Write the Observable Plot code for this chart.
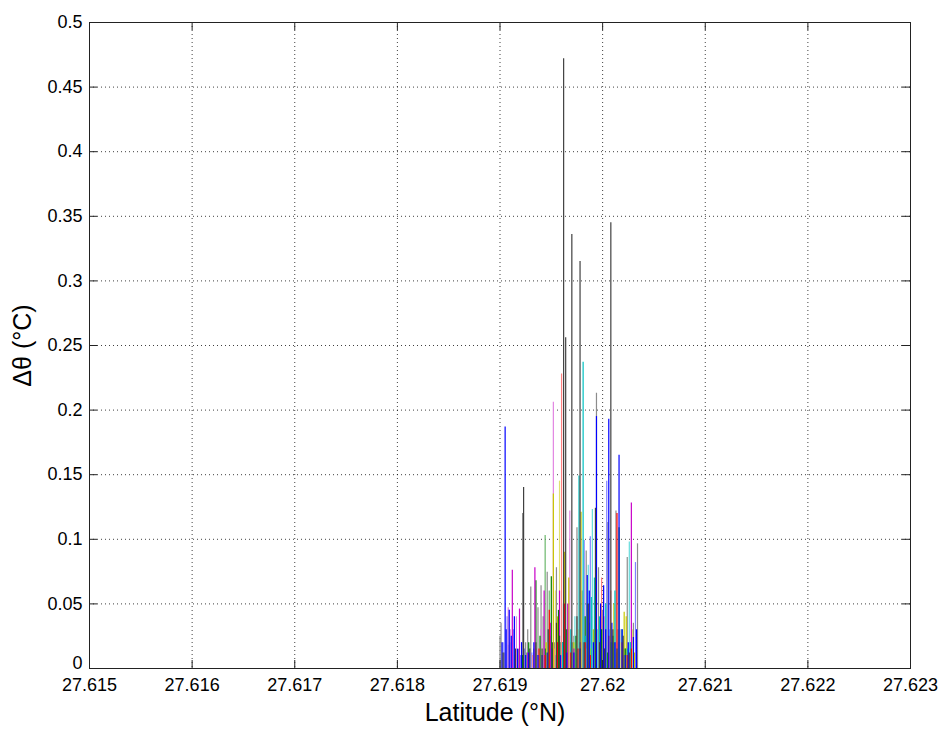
<!DOCTYPE html>
<html>
<head>
<meta charset="utf-8">
<script src="https://cdn.jsdelivr.net/npm/d3@7"></script>
<script src="https://cdn.jsdelivr.net/npm/@observablehq/plot@0.6"></script>
<style>
  html, body { margin: 0; padding: 0; background: #fff; }
</style>
</head>
<body>
<div id="chart"></div>
<script>
// ---- axis ticks ----
const xTicks = [27.615, 27.616, 27.617, 27.618, 27.619, 27.620, 27.621, 27.622, 27.623];
const xTickLabels = ["27.615", "27.616", "27.617", "27.618", "27.619", "27.62", "27.621", "27.622", "27.623"];
const yTicks = [0, 0.05, 0.1, 0.15, 0.2, 0.25, 0.3, 0.35, 0.4, 0.45, 0.5];
const yTickLabels = ["0", "0.05", "0.1", "0.15", "0.2", "0.25", "0.3", "0.35", "0.4", "0.45", "0.5"];
const xLabel = "Latitude (°N)";
const yLabel = "Δθ (°C)";

// ---- series (latitude of each spike, Δθ value) ----
const grayLat = [27.61900, 27.61901, 27.61904, 27.61908, 27.61910, 27.61914, 27.61918, 27.61922, 27.61925, 27.61927, 27.61930, 27.61933, 27.61937, 27.61940, 27.61942, 27.61946, 27.61949, 27.61953, 27.61955, 27.61960, 27.61963, 27.61966, 27.61969, 27.61972, 27.61975, 27.61980, 27.61984, 27.61987, 27.61990, 27.61994, 27.61996, 27.62000, 27.62003, 27.62005, 27.62009, 27.62013, 27.62015, 27.62018, 27.62022, 27.62024, 27.62027, 27.62030, 27.62034];
const grayVal = [0.025, 0.035, 0.012, 0.018, 0.02, 0.01, 0.015, 0.120, 0.02, 0.03, 0.063, 0.015, 0.047, 0.064, 0.04, 0.0745, 0.025, 0.02, 0.078, 0.05, 0.03, 0.03, 0.02, 0.025, 0.109, 0.06, 0.091, 0.035, 0.04, 0.213, 0.078, 0.045, 0.025, 0.113, 0.02, 0.122, 0.03, 0.03, 0.015, 0.086, 0.02, 0.035, 0.0965];

const lightBlueLat = [27.61903, 27.61907, 27.61913, 27.61920, 27.61924, 27.61931, 27.61944, 27.61961, 27.61970, 27.61982, 27.61988, 27.61997, 27.62004, 27.62011, 27.62015, 27.62023, 27.62032];
const lightBlueVal = [0.02, 0.04, 0.03, 0.01, 0.015, 0.012, 0.01, 0.015, 0.012, 0.099, 0.102, 0.03, 0.145, 0.02, 0.02, 0.015, 0.082];

const lightMagentaLat = [27.61908, 27.61910, 27.61916, 27.61929, 27.61936, 27.61940, 27.61952, 27.61962, 27.61968, 27.61979, 27.61989, 27.62002, 27.62020];
const lightMagentaVal = [0.047, 0.03, 0.04, 0.012, 0.015, 0.03, 0.206, 0.02, 0.122, 0.02, 0.012, 0.015, 0.01];

const lightGreenLat = [27.61926, 27.61944, 27.61948, 27.61959, 27.61971, 27.61995, 27.62013];
const lightGreenVal = [0.012, 0.103, 0.06, 0.02, 0.02, 0.015, 0.012];

const lightRedLat = [27.61932, 27.61953, 27.61960, 27.61981, 27.61999, 27.62008, 27.62017, 27.62025];
const lightRedVal = [0.01, 0.015, 0.228, 0.02, 0.07, 0.06, 0.012, 0.012];

const lightCyanLat = [27.61945, 27.61964, 27.61973, 27.61986, 27.61990, 27.61995, 27.62007, 27.62018, 27.62026];
const lightCyanVal = [0.012, 0.015, 0.04, 0.08, 0.123, 0.03, 0.03, 0.02, 0.098];

const lightYellowLat = [27.61941, 27.61947, 27.61954, 27.61958, 27.61976, 27.61984, 27.62017, 27.62029];
const lightYellowVal = [0.015, 0.02, 0.06, 0.145, 0.03, 0.015, 0.02, 0.03];

const yellowLat = [27.61945, 27.61952, 27.61956, 27.61963, 27.61967, 27.61972, 27.61979, 27.61988, 27.61991, 27.62003, 27.62011, 27.62021, 27.62023, 27.62031];
const yellowVal = [0.02, 0.135, 0.04, 0.09, 0.07, 0.02, 0.121, 0.015, 0.03, 0.02, 0.05, 0.0436, 0.04, 0.012];

const greenLat = [27.61922, 27.61928, 27.61935, 27.61939, 27.61944, 27.61950, 27.61957, 27.61961, 27.61965, 27.61974, 27.61978, 27.61983, 27.61992, 27.61999, 27.62005, 27.62010, 27.62016, 27.62022];
const greenVal = [0.01, 0.02, 0.068, 0.025, 0.015, 0.071, 0.045, 0.02, 0.03, 0.025, 0.015, 0.04, 0.02, 0.03, 0.012, 0.025, 0.109, 0.015];

const magentaLat = [27.61912, 27.61919, 27.61927, 27.61934, 27.61943, 27.61949, 27.61958, 27.61966, 27.61972, 27.61978, 27.61998, 27.62012, 27.62028];
const magentaVal = [0.076, 0.046, 0.012, 0.078, 0.06, 0.035, 0.06, 0.05, 0.015, 0.02, 0.015, 0.02, 0.128];

const cyanLat = [27.61955, 27.61961, 27.61969, 27.61977, 27.61981, 27.61983, 27.61985, 27.61989, 27.61992, 27.61997, 27.62003, 27.62008, 27.62012, 27.62019, 27.62024, 27.62027];
const cyanVal = [0.01, 0.02, 0.03, 0.149, 0.237, 0.025, 0.05, 0.055, 0.07, 0.04, 0.05, 0.02, 0.06, 0.03, 0.015, 0.02];

const redLat = [27.61938, 27.61944, 27.61948, 27.61956, 27.61963, 27.61969, 27.61976, 27.61983, 27.61988, 27.61993, 27.62001, 27.62006, 27.62014, 27.62019, 27.62024, 27.62028];
const redVal = [0.015, 0.01, 0.045, 0.02, 0.05, 0.012, 0.015, 0.02, 0.01, 0.03, 0.04, 0.025, 0.12, 0.02, 0.01, 0.015];

const blueLat = [27.61902, 27.61905, 27.61906, 27.61909, 27.61911, 27.61914, 27.61917, 27.61921, 27.61925, 27.61928, 27.61933, 27.61937, 27.61941, 27.61946, 27.61951, 27.61955, 27.61959, 27.61965, 27.61972, 27.61978, 27.61985, 27.61987, 27.61991, 27.61994, 27.61998, 27.62001, 27.62003, 27.62006, 27.62009, 27.62012, 27.62016, 27.62019, 27.62022, 27.62025, 27.62030, 27.62033];
const blueVal = [0.02, 0.187, 0.03, 0.045, 0.025, 0.04, 0.015, 0.02, 0.01, 0.012, 0.02, 0.01, 0.01, 0.012, 0.015, 0.01, 0.01, 0.012, 0.012, 0.015, 0.072, 0.06, 0.02, 0.195, 0.05, 0.064, 0.03, 0.193, 0.035, 0.02, 0.165, 0.03, 0.01, 0.02, 0.024, 0.03];

const darkLat = [27.61903, 27.61915, 27.61923, 27.61929, 27.61935, 27.61941, 27.61947, 27.61951, 27.61955, 27.61958, 27.61962, 27.61964, 27.61970, 27.61975, 27.61978, 27.61982, 27.61986, 27.61993, 27.61997, 27.62002, 27.62008, 27.62010, 27.62014, 27.62020, 27.62026];
const darkVal = [0.012, 0.015, 0.140, 0.015, 0.02, 0.015, 0.03, 0.02, 0.035, 0.025, 0.472, 0.256, 0.336, 0.04, 0.315, 0.02, 0.05, 0.124, 0.02, 0.015, 0.345, 0.03, 0.015, 0.025, 0.012];

const seriesList = [
  {name: "gray", color: "#8c8c8c", lat: grayLat, val: grayVal},
  {name: "lightBlue", color: "#8080ff", lat: lightBlueLat, val: lightBlueVal},
  {name: "lightMagenta", color: "#e285e2", lat: lightMagentaLat, val: lightMagentaVal},
  {name: "lightGreen", color: "#6cb86c", lat: lightGreenLat, val: lightGreenVal},
  {name: "lightRed", color: "#ff8080", lat: lightRedLat, val: lightRedVal},
  {name: "lightCyan", color: "#66dcdc", lat: lightCyanLat, val: lightCyanVal},
  {name: "lightYellow", color: "#e0e070", lat: lightYellowLat, val: lightYellowVal},
  {name: "yellow", color: "#c8c800", lat: yellowLat, val: yellowVal},
  {name: "green", color: "#008000", lat: greenLat, val: greenVal},
  {name: "magenta", color: "#c800c8", lat: magentaLat, val: magentaVal},
  {name: "cyan", color: "#00c0c0", lat: cyanLat, val: cyanVal},
  {name: "red", color: "#ff0000", lat: redLat, val: redVal},
  {name: "blue", color: "#0000ff", lat: blueLat, val: blueVal},
  {name: "dark", color: "#404040", lat: darkLat, val: darkVal}
];

const rows = seriesList.flatMap(s => s.lat.map((lat, i) => ({series: s.name, color: s.color, lat, v: s.val[i]})));

const W = 940, H = 731;
const mL = 89, mR = 30, mT = 22, mB = 63;
const innerW = W - mL - mR, innerH = H - mT - mB;
const tickLen = 8;
const yFmt = d => yTickLabels[yTicks.indexOf(d)];

const chart = Plot.plot({
  width: W,
  height: H,
  marginLeft: mL,
  marginRight: mR,
  marginTop: mT,
  marginBottom: mB,
  x: {domain: [27.615, 27.623]},
  y: {domain: [0, 0.5]},
  style: {fontFamily: "'Liberation Sans', Arial, Helvetica, sans-serif", background: "#fff", color: "#000"},
  marks: [
    Plot.gridX(xTicks.slice(1, -1), {stroke: "#000", strokeOpacity: 0.75, strokeDasharray: "1,3"}),
    Plot.gridY(yTicks.slice(1, -1), {stroke: "#000", strokeOpacity: 0.75, strokeDasharray: "1,3"}),
    Plot.ruleX(rows, {x: "lat", y1: 0, y2: "v", stroke: "color", strokeWidth: 1.2}),
    // inward ticks (bottom/top, left/right)
    Plot.ruleX(xTicks, {insetTop: innerH - tickLen, stroke: "#222"}),
    Plot.ruleX(xTicks, {insetBottom: innerH - tickLen, stroke: "#222"}),
    Plot.ruleY(yTicks, {insetRight: innerW - tickLen, stroke: "#222"}),
    Plot.ruleY(yTicks, {insetLeft: innerW - tickLen, stroke: "#222"}),
    Plot.frame({stroke: "#222"}),
    Plot.axisX(xTicks, {anchor: "bottom", tickSize: 0, tickPadding: 10, fontSize: 18, label: null,
      tickFormat: d => xTickLabels[xTicks.indexOf(d)]}),
    Plot.axisY(yTicks.slice(1), {anchor: "left", tickSize: 0, tickPadding: 7, fontSize: 18, label: null,
      tickFormat: yFmt}),
    Plot.axisY(yTicks.slice(0, 1), {anchor: "left", tickSize: 0, tickPadding: 7, fontSize: 18, label: null, dy: -5,
      tickFormat: yFmt}),
    Plot.text([xLabel], {text: d => d, frameAnchor: "bottom", dy: 44, dx: -5, lineAnchor: "middle", fontSize: 25, fill: "#000"}),
    Plot.text([yLabel], {text: d => d, frameAnchor: "left", dx: -67, rotate: -90, lineAnchor: "middle", textAnchor: "middle", fontSize: 25, fill: "#000"})
  ]
});
document.getElementById("chart").appendChild(chart);
</script>
</body>
</html>
